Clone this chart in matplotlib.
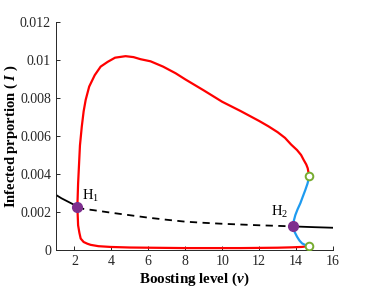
import numpy as np
import matplotlib
matplotlib.use('Agg')
import matplotlib.pyplot as plt

plt.rcParams['font.family'] = 'Liberation Serif'
plt.rcParams['mathtext.fontset'] = 'custom'
plt.rcParams['mathtext.rm'] = 'Liberation Serif'
plt.rcParams['mathtext.it'] = 'Liberation Serif:italic:bold'
plt.rcParams['mathtext.bf'] = 'Liberation Serif:bold'

# equilibrium branch (stable left, unstable middle, stable right)
eq_left_x = [1.0, 1.3, 1.6, 1.9, 2.16]
eq_left_y = [0.0029, 0.00272, 0.00257, 0.00242, 0.00228]
eq_mid_x = [2.16, 2.5, 3, 4, 5, 6, 7, 8, 9, 10, 11, 12, 13, 13.84]
eq_mid_y = [0.00228, 0.00216, 0.0021, 0.00196, 0.00183, 0.0017, 0.00159,
            0.00149, 0.00143, 0.00138, 0.00134, 0.0013, 0.00127, 0.00124]
eq_right_x = [13.84, 15.0, 16.0]
eq_right_y = [0.00124, 0.0012, 0.00117]

# stable periodic orbit, max and min
max_x = [2.16, 2.2, 2.25, 2.3, 2.4, 2.5, 2.61, 2.8, 3.1, 3.42, 3.8, 4.2, 4.77,
         5.2, 5.58, 6.12, 6.8, 7.48, 8.0, 9.0, 10.0, 11.0, 12.0, 12.5, 13.0,
         13.4, 13.73, 14.05, 14.27, 14.41, 14.55, 14.63, 14.7]
max_y = [0.00228, 0.0035, 0.0045, 0.0055, 0.0065, 0.0073, 0.0079, 0.0086, 0.0092,
         0.00965, 0.0099, 0.01012, 0.0102, 0.01015, 0.01004, 0.00993, 0.00965,
         0.0093, 0.00898, 0.0084, 0.0078, 0.00731, 0.00679, 0.00651, 0.0062,
         0.0059, 0.00555, 0.00526, 0.005, 0.00474, 0.0045, 0.0043, 0.00391]
min_x = [2.16, 2.2, 2.27, 2.34, 2.5, 2.7, 2.88, 3.3, 3.96, 5, 6, 7, 8, 9, 10,
         11, 12, 13, 13.8, 14.3, 14.72]
min_y = [0.00228, 0.0013, 0.0009, 0.0006, 0.00042, 0.00033, 0.00027, 0.0002,
         0.00016, 0.00013, 0.00012, 0.00011, 0.0001, 0.0001, 0.0001, 0.0001,
         0.00011, 0.00012, 0.00014, 0.00016, 0.00021]

# unstable periodic orbit between the fold points and H2
blue_x = [14.72, 14.62, 14.5, 14.36, 14.23, 14.08, 13.96, 13.88, 13.84,
          13.92, 14.05, 14.18, 14.32, 14.5, 14.72]
blue_y = [0.00391, 0.0035, 0.00316, 0.0028, 0.00246, 0.00214, 0.00184,
          0.00155, 0.00124, 0.00095, 0.0007, 0.0005, 0.00035, 0.00026, 0.00021]

hopf_x = [2.16, 13.84]
hopf_y = [0.00228, 0.00124]
fold_x = [14.72, 14.72]
fold_y = [0.00391, 0.00021]

fig = plt.figure(figsize=(3.68, 2.89), dpi=100)
ax = fig.add_axes([0.152, 0.135, 0.753, 0.789])

ax.plot(eq_left_x, eq_left_y, color='black', lw=1.3)
ax.plot(eq_mid_x, eq_mid_y, color='black', lw=1.3, ls=(0, (4, 3)))
ax.plot(eq_right_x, eq_right_y, color='black', lw=1.3)
ax.plot(max_x, max_y, color='#FF0000', lw=1.6)
ax.plot(min_x, min_y, color='#FF0000', lw=1.6)
ax.plot(blue_x, blue_y, color='#1E9BF0', lw=1.6)
ax.plot(hopf_x, hopf_y, 'o', color='#7E2F8E', ms=7, zorder=5)
ax.plot(fold_x, fold_y, 'o', mfc='white', mec='#77AC30', mew=1.4, ms=5.5, zorder=5)

ax.text(2.4, 0.00261, r'H$_1$', fontsize=10.5)
ax.text(12.62, 0.00178, r'H$_2$', fontsize=10.5)

ax.set_xlim(1, 16)
ax.set_ylim(0, 0.012)
ax.set_xticks([2, 4, 6, 8, 10, 12, 14, 16])
ax.set_yticks([0, 0.002, 0.004, 0.006, 0.008, 0.01, 0.012])
ax.set_yticklabels(['0', '0.002', '0.004', '0.006', '0.008', '0.01', '0.012'])
ax.tick_params(direction='in', labelsize=10, length=3, width=0.7, colors='#262626')
for s in ['top', 'right']:
    ax.spines[s].set_visible(False)
for s in ['left', 'bottom']:
    ax.spines[s].set_linewidth(0.7)
    ax.spines[s].set_color('#262626')

ax.set_xlabel(r'Boosting level ($\nu$)', fontsize=10.8, fontweight='bold', labelpad=2)
ax.set_ylabel(r'Infected prportion ( $I$ )', fontsize=10.5, fontweight='bold', labelpad=0)

fig.savefig('out.png', dpi=100)
